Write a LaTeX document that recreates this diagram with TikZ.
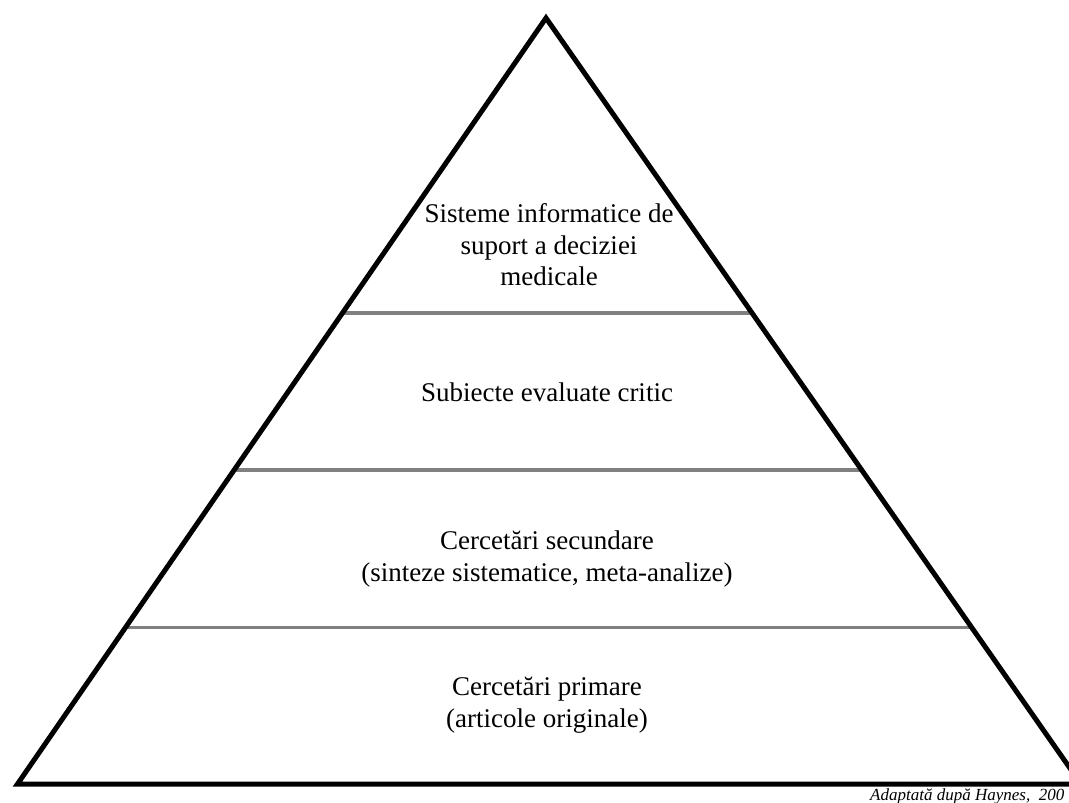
\documentclass[tikz,border=0pt]{standalone}
\usepackage{fontspec}
\setmainfont{Liberation Serif}
\usetikzlibrary{calc}

\begin{document}
\begin{tikzpicture}[x=1pt, y=-1pt,
    level/.style={align=center, inner sep=0pt, font=\fontsize{27}{31.5}\selectfont},
    divider/.style={draw=black!50, line width=3.5pt},
    outline/.style={draw=black, line width=5pt, line join=miter}]
    \useasboundingbox (0,0) rectangle (1069,803);

    \coordinate (top) at (546,18);
    \coordinate (left) at (17.5,784);
    \coordinate (right) at (1081,784);

    \draw[divider] ($(top)!0.385!(left)$) -- ($(top)!0.385!(right)$);
    \draw[divider] ($(top)!0.590!(left)$) -- ($(top)!0.590!(right)$);
    \draw[divider] ($(top)!0.796!(left)$) -- ($(top)!0.796!(right)$);
    \draw[outline] (left) -- (top) -- (right) -- cycle;

    \node[level] at (549,245) (sisteme) {Sisteme informatice de\\suport a deciziei\\medicale};
    \node[level] at (547,392) (subiecte) {Subiecte evaluate critic};
    \node[level] at (547,559) (secundare) {Cercetări secundare\\(sinteze sistematice, meta-analize)};
    \node[level] at (547,705) (primare) {Cercetări primare\\(articole originale)};
    \node[anchor=base west, inner sep=0pt, font=\fontsize{17}{20}\selectfont\itshape] at (870,800) (sursa) {Adaptată după Haynes,~~200};
\end{tikzpicture}
\end{document}
